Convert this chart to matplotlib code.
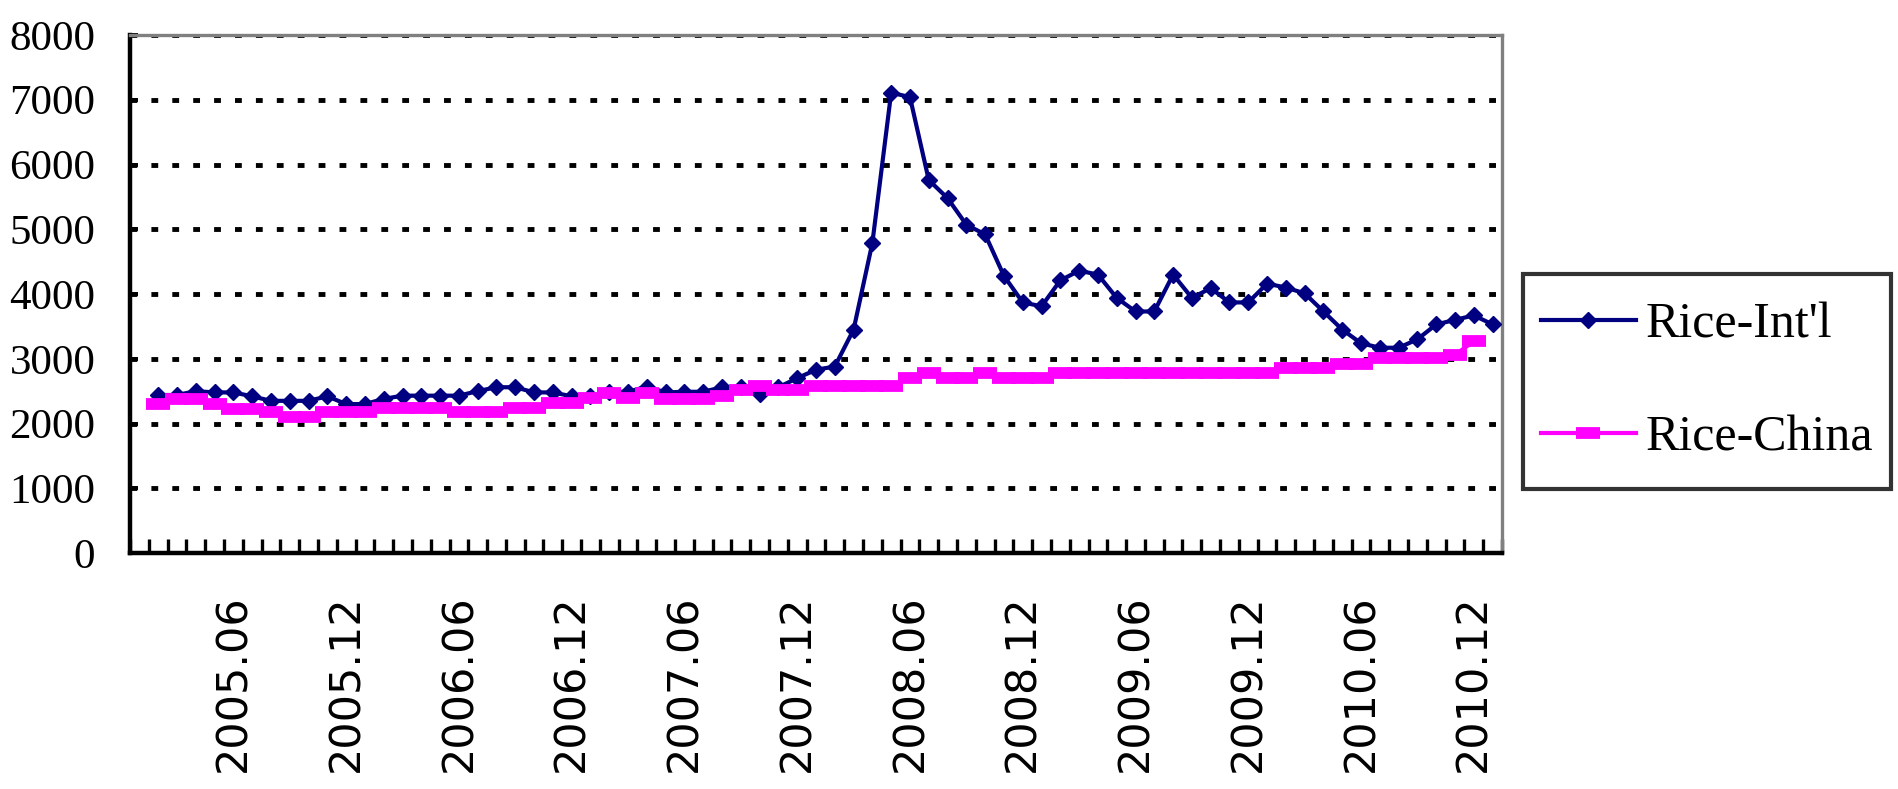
import numpy as np
import matplotlib.pyplot as plt
from matplotlib.path import Path

# monthly categories 2005.01 - 2011.01
months = [f"{y}.{m:02d}" for y in range(2005, 2011) for m in range(1, 13)] + ["2011.01"]
label_idx = list(range(5, 73, 6))
tick_labels = [months[i] for i in label_idx]

nan = np.nan
rice_intl = [nan,
             2440, 2440, 2500, 2480, 2480, 2420, 2350, 2350, 2350, 2420, 2300, 2300,
             2380, 2430, 2430, 2430, 2430, 2500, 2560, 2560, 2480, 2480, 2420, 2420,
             2490, 2490, 2570, 2480, 2490, 2490, 2560, 2560, 2450, 2560, 2700, 2830,
             2880, 3450, 4790, 7110, 7040, 5760, 5480, 5070, 4920, 4280, 3870, 3810,
             4210, 4360, 4300, 3940, 3730, 3730, 4300, 3940, 4090, 3870, 3870, 4160,
             4100, 4010, 3730, 3450, 3240, 3170, 3170, 3300, 3530, 3600, 3670, 3530]

rice_china = [nan,
              2300, 2380, 2380, 2300, 2230, 2230, 2170, 2100, 2100, 2170, 2170, 2170,
              2240, 2240, 2240, 2240, 2170, 2170, 2170, 2240, 2240, 2320, 2320, 2390,
              2470, 2390, 2470, 2380, 2380, 2380, 2430, 2510, 2580, 2510, 2510, 2580,
              2580, 2580, 2580, 2580, 2710, 2780, 2710, 2710, 2780, 2710, 2710, 2710,
              2780, 2780, 2780, 2780, 2780, 2780, 2780, 2780, 2780, 2780, 2780, 2780,
              2850, 2850, 2850, 2920, 2920, 3010, 3010, 3010, 3010, 3060, 3270, nan]


def tall_square(x0, y0, width, height, mutation_size):
    # square legend frame with some extra room above and below
    dy = 0.2 * mutation_size
    return Path([(x0, y0 - dy), (x0 + width, y0 - dy), (x0 + width, y0 + height + dy),
                 (x0, y0 + height + dy), (x0, y0 - dy)], closed=True)


W, H = 1898, 789
fig = plt.figure(figsize=(W / 100, H / 100), dpi=100)
ax = fig.add_axes([130 / W, 1 - 553 / H, 1372 / W, 518 / H])

x = np.arange(len(months))
ax.plot(x, rice_intl, color="#000080", lw=3, marker="D", ms=8,
        label="Rice-Int'l", zorder=3)
ax.plot(x, rice_china, color="#FF00FF", lw=3, marker="_", ms=17,
        mew=8.5, label="Rice-China", zorder=4)

ax.set_xlim(-0.5, len(months) - 0.5)
ax.set_ylim(0, 8000)
ax.set_yticks(range(0, 8001, 1000))
ax.yaxis.grid(True, color="black", linestyle=(0, (1.4, 2.9)), linewidth=3.5)
ax.set_axisbelow(True)

ax.set_xticks(label_idx)
ax.set_xticklabels(tick_labels, rotation=90, fontsize=31, family="DejaVu Sans")
ax.set_xticks(np.arange(-0.5, len(months), 1), minor=True)
ax.tick_params(axis="x", which="major", length=0, pad=30)
ax.tick_params(axis="x", which="minor", direction="in", length=10, width=2.4)
ax.tick_params(axis="y", direction="in", length=6, width=2.8, pad=25)
for lab in ax.get_yticklabels():
    lab.set_family("Liberation Serif")
    lab.set_fontsize(31)

ax.spines["left"].set_linewidth(3.2)
ax.spines["bottom"].set_linewidth(3.2)
for s in ("top", "right"):
    ax.spines[s].set_color("#808080")
    ax.spines[s].set_linewidth(2.4)

leg = ax.legend(loc="upper left", bbox_to_anchor=(1523 / W, 1 - 284 / H),
                bbox_transform=fig.transFigure, prop={"family": "Liberation Serif", "size": 36},
                frameon=True, fancybox=False, edgecolor="black", handlelength=1.9,
                handletextpad=0.2, labelspacing=1.33, borderpad=0.35, borderaxespad=0)
leg.get_frame().set_linewidth(3)
leg.legendPatch.set_boxstyle(tall_square)

fig.savefig("out.png", dpi=100, facecolor="white")
